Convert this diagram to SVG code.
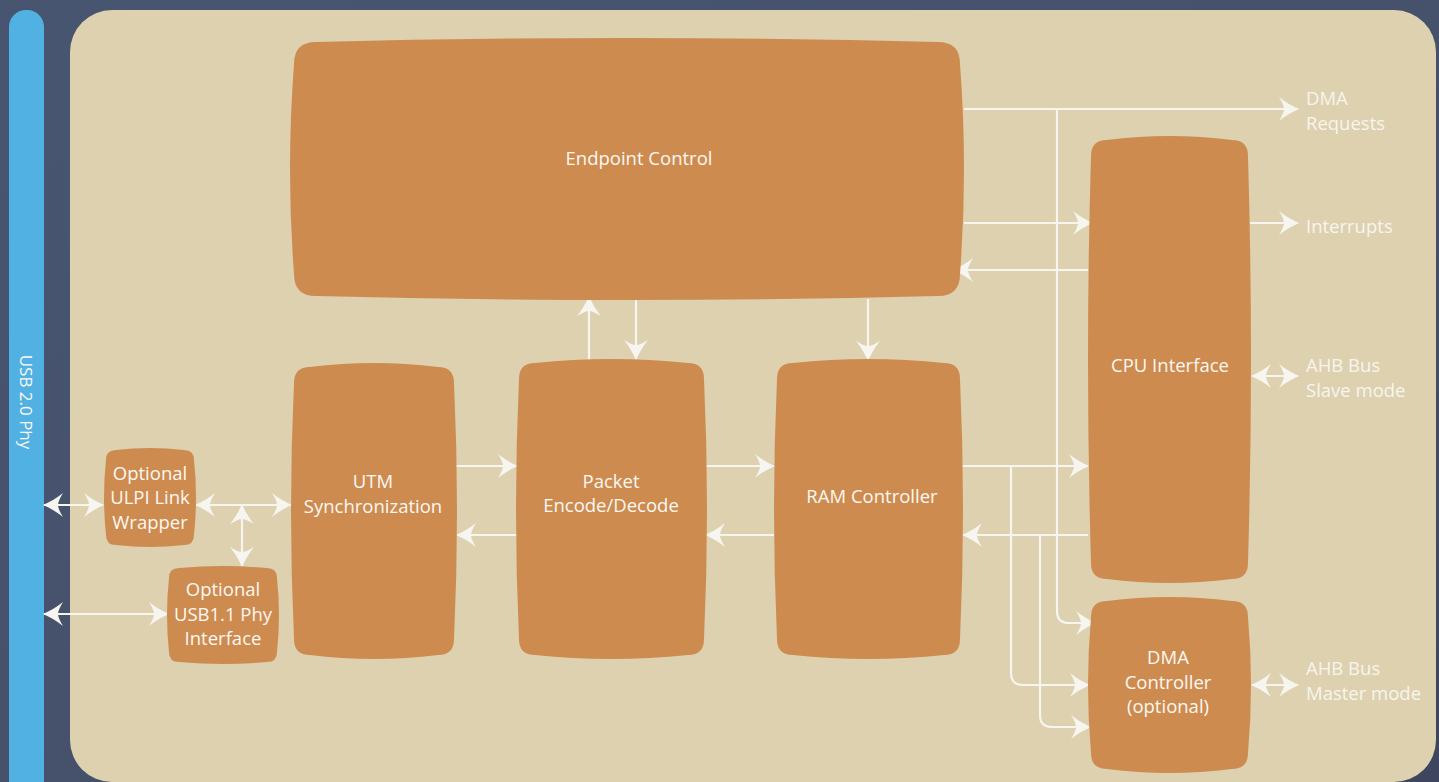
<svg xmlns="http://www.w3.org/2000/svg" width="1439" height="782" viewBox="0 0 1439 782">
<defs>
<linearGradient id="bg" x1="0" y1="0" x2="1" y2="1">
<stop offset="0" stop-color="#485571"/>
<stop offset="0.5" stop-color="#46526c"/>
<stop offset="1" stop-color="#3d465e"/>
</linearGradient>
<marker id="ah" viewBox="0 0 22 24" markerWidth="22" markerHeight="24" refX="21" refY="12" orient="auto-start-reverse" markerUnits="userSpaceOnUse">
<path d="M22,12 C15,9 8,5 2,0 C5,5 7,9 7,12 C7,15 5,19 2,24 C8,19 15,15 22,12 Z" fill="#f7f5f0"/>
</marker>
<style>
.node{fill:#cd8b50}
.lbl{font-family:"Open Sans","Liberation Sans",sans-serif;font-size:18.5px;fill:#fbf8f2;text-anchor:middle}
.out{font-family:"Open Sans","Liberation Sans",sans-serif;font-size:18.5px;fill:#f8f5ee}
.c{fill:none;stroke:#f7f5f0;stroke-width:2.2}
.a{marker-end:url(#ah)}
.d{marker-start:url(#ah);marker-end:url(#ah)}
</style>
</defs>
<rect x="0" y="0" width="1439" height="782" fill="url(#bg)"/>
<rect x="70" y="10" width="1366" height="772" rx="42" fill="#ddd1b0"/>
<g id="usb-phy">
<rect x="9" y="10" width="35" height="800" rx="17" fill="#52b1e3"/>
<text class="lbl" transform="translate(20,402) rotate(90)" style="font-size:17px">USB 2.0 Phy</text>
</g>
<g id="connectors">
<path class="c a" d="M964,109 H1298"/>
<path class="c a" d="M1057,109 V611 Q1057,623 1069,623 H1095"/>
<path class="c a" d="M964,223 H1092"/>
<path class="c a" d="M1088,270 H954"/>
<path class="c a" d="M1250,223 H1298"/>
<path class="c d" d="M1252,376 H1298"/>
<path class="c d" d="M1252,685 H1298"/>
<path class="c a" d="M962,466 H1088"/>
<path class="c a" d="M1088,535 H963"/>
<path class="c a" d="M1011,466 V673 Q1011,685 1023,685 H1089"/>
<path class="c a" d="M1040,535 V715 Q1040,727 1052,727 H1090"/>
<path class="c a" d="M589,360 V297"/>
<path class="c a" d="M636,299 V359"/>
<path class="c a" d="M868,299 V360"/>
<path class="c a" d="M456,466 H517"/>
<path class="c a" d="M517,535 H457"/>
<path class="c a" d="M706,466 H774"/>
<path class="c a" d="M774,535 H706"/>
<path class="c d" d="M44,505 H103"/>
<path class="c d" d="M196,505 H291"/>
<path class="c d" d="M242,505 V566"/>
<path class="c d" d="M44,614 H168"/>
</g>
<g id="endpoint-control">
<path class="node" d="M316,42 Q627,34 938,42 Q960,42 960,64 Q968,169 960,274 Q960,296 938,296 Q627,304 316,296 Q294,296 294,274 Q286,169 294,64 Q294,42 316,42 Z"/>
<text class="lbl" x="639" y="165">Endpoint Control</text>
</g>
<g id="utm-sync">
<path class="node" d="M310,367 Q374,359 438,367 Q454,367 454,383 Q460,511 454,639 Q454,655 438,655 Q374,663 310,655 Q294,655 294,639 Q288,511 294,383 Q294,367 310,367 Z"/>
<text class="lbl" x="373" y="488">UTM</text>
<text class="lbl" x="373" y="513">Synchronization</text>
</g>
<g id="packet">
<path class="node" d="M535,363 Q611,355 688,363 Q704,363 704,379 Q710,509 704,639 Q704,655 688,655 Q611,663 535,655 Q519,655 519,639 Q513,509 519,379 Q519,363 535,363 Z"/>
<text class="lbl" x="611" y="488">Packet</text>
<text class="lbl" x="611" y="512">Encode/Decode</text>
</g>
<g id="ram-controller">
<path class="node" d="M793,363 Q868,355 944,363 Q960,363 960,379 Q966,509 960,639 Q960,655 944,655 Q868,663 793,655 Q777,655 777,639 Q771,509 777,379 Q777,363 793,363 Z"/>
<text class="lbl" x="872" y="503">RAM Controller</text>
</g>
<g id="cpu-interface">
<path class="node" d="M1107,140 Q1169,132 1232,140 Q1248,140 1248,156 Q1254,360 1248,563 Q1248,579 1232,579 Q1169,587 1107,579 Q1091,579 1091,563 Q1085,360 1091,156 Q1091,140 1107,140 Z"/>
<text class="lbl" x="1170" y="372">CPU Interface</text>
</g>
<g id="dma-controller">
<path class="node" d="M1107,601 Q1169,593 1232,601 Q1248,601 1248,617 Q1254,685 1248,753 Q1248,769 1232,769 Q1169,777 1107,769 Q1091,769 1091,753 Q1085,685 1091,617 Q1091,601 1107,601 Z"/>
<text class="lbl" x="1168" y="664">DMA</text>
<text class="lbl" x="1168" y="689">Controller</text>
<text class="lbl" x="1168" y="713">(optional)</text>
</g>
<g id="ulpi-wrapper">
<path class="node" d="M116,450 Q150,446 184,450 Q194,450 194,460 Q198,497 194,535 Q194,545 184,545 Q150,549 116,545 Q106,545 106,535 Q102,497 106,460 Q106,450 116,450 Z"/>
<text class="lbl" x="150" y="480">Optional</text>
<text class="lbl" x="150" y="504">ULPI Link</text>
<text class="lbl" x="150" y="529">Wrapper</text>
</g>
<g id="usb11-phy">
<path class="node" d="M179,568 Q223,564 267,568 Q277,568 277,578 Q281,615 277,652 Q277,662 267,662 Q223,666 179,662 Q169,662 169,652 Q165,615 169,578 Q169,568 179,568 Z"/>
<text class="lbl" x="223" y="596">Optional</text>
<text class="lbl" x="223" y="621">USB1.1 Phy</text>
<text class="lbl" x="223" y="645">Interface</text>
</g>
<g id="external-labels">
<text class="out" x="1306" y="105">DMA</text>
<text class="out" x="1306" y="130">Requests</text>
<text class="out" x="1306" y="233">Interrupts</text>
<text class="out" x="1306" y="372">AHB Bus</text>
<text class="out" x="1306" y="397">Slave mode</text>
<text class="out" x="1306" y="675">AHB Bus</text>
<text class="out" x="1306" y="700">Master mode</text>
</g>
</svg>
